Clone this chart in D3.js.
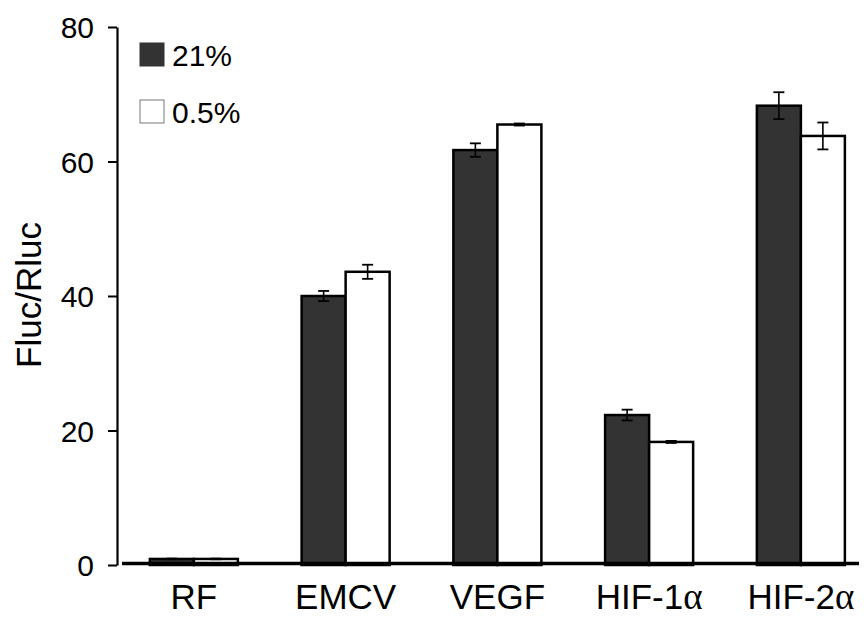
<!DOCTYPE html>
<html><head><meta charset="utf-8">
<script src="https://cdn.jsdelivr.net/npm/d3@7"></script>
<style>body{margin:0;background:#fff}svg{display:block}</style>
</head><body>
<script>
const categories = ["RF","EMCV","VEGF","HIF-1","HIF-2"];
const series = ["21%","0.5%"];
const values21 = [0.9, 40.0, 61.7, 22.3, 68.3];
const values05 = [0.9, 43.6, 65.5, 18.3, 63.8];
const err21 = [0.05, 0.75, 1.0, 0.8, 2.0];
const err05 = [0.05, 1.05, 0.15, 0.15, 2.0];
const yTicks = [0, 20, 40, 60, 80];

const W = 864, H = 617;
const svg = d3.select("body").append("svg").attr("width", W).attr("height", H);
const font = "'Liberation Sans', Arial, sans-serif";

const y = d3.scaleLinear().domain([0, 80]).range([565, 27]);
const x0 = d3.scaleBand().domain(categories).range([118, 876.75]).paddingInner(0.42).paddingOuter(0.21);
const x1 = d3.scaleBand().domain(series).range([0, x0.bandwidth()]);
const colors = {"21%": "#333333", "0.5%": "#ffffff"};

// y axis
const yAxis = d3.axisLeft(y).tickValues(yTicks).tickSize(9).tickPadding(14).tickSizeOuter(0);
const gy = svg.append("g").attr("transform", "translate(117,0)").call(yAxis);
gy.select(".domain").attr("stroke", "#000").attr("stroke-width", 2.2);
gy.selectAll(".tick line").attr("stroke", "#000").attr("stroke-width", 2);
gy.selectAll(".tick text").attr("font-family", font).attr("font-size", 30).attr("fill", "#000").attr("dy", "0.36em");

// bars
const data = [];
categories.forEach((c, i) => {
  data.push({cat: c, s: "21%", v: values21[i], e: err21[i]});
  data.push({cat: c, s: "0.5%", v: values05[i], e: err05[i]});
});
const g = svg.append("g");
g.selectAll("rect.bar").data(data).join("rect").attr("class", "bar")
  .attr("x", d => x0(d.cat) + x1(d.s))
  .attr("width", x1.bandwidth())
  .attr("y", d => y(d.v))
  .attr("height", d => y(0) - y(d.v))
  .attr("fill", d => colors[d.s])
  .attr("stroke", "#000").attr("stroke-width", 2.5);

// error bars
const eg = g.selectAll("g.err").data(data).join("g").attr("class", "err");
eg.append("line")
  .attr("x1", d => x0(d.cat) + x1(d.s) + x1.bandwidth()/2)
  .attr("x2", d => x0(d.cat) + x1(d.s) + x1.bandwidth()/2)
  .attr("y1", d => y(d.v + d.e)).attr("y2", d => y(d.v - d.e))
  .attr("stroke", "#000").attr("stroke-width", 1.6);
[1, -1].forEach(sg => {
  eg.append("line")
    .attr("x1", d => x0(d.cat) + x1(d.s) + x1.bandwidth()/2 - 5.5)
    .attr("x2", d => x0(d.cat) + x1(d.s) + x1.bandwidth()/2 + 5.5)
    .attr("y1", d => y(d.v + sg*d.e)).attr("y2", d => y(d.v + sg*d.e))
    .attr("stroke", "#000").attr("stroke-width", 1.8);
});

// x axis baseline
svg.append("line").attr("x1", 122).attr("x2", 859).attr("y1", y(0) - 1.5).attr("y2", y(0) - 1.5)
  .attr("stroke", "#000").attr("stroke-width", 3.5);

// x labels
const xl = svg.append("g").selectAll("text").data(categories).join("text")
  .attr("x", d => x0(d) + x0.bandwidth()/2)
  .attr("y", 609)
  .attr("text-anchor", "middle")
  .attr("font-family", font).attr("font-size", 35).attr("fill", "#000");
xl.append("tspan").text(d => d);
xl.filter(d => d.startsWith("HIF")).append("tspan")
  .attr("font-family", "'Liberation Serif', 'Times New Roman', serif").attr("font-size", 37).text("α");

// y label
svg.append("text").attr("transform", "translate(41,295) rotate(-90)")
  .attr("text-anchor", "middle").attr("font-family", font).attr("font-size", 35).attr("fill", "#000")
  .text("Fluc/Rluc");

// legend
const lg = svg.append("g").selectAll("g").data(series).join("g")
  .attr("transform", (d, i) => `translate(140,${43 + i*57})`);
lg.append("rect").attr("width", 24).attr("height", 23)
  .attr("fill", d => colors[d]).attr("stroke", d => d === "21%" ? "#333" : "#777").attr("stroke-width", 1);
lg.append("text").attr("x", 32).attr("y", 22.5)
  .attr("font-family", font).attr("font-size", 30).attr("fill", "#000").text(d => d);
</script>
</body></html>
